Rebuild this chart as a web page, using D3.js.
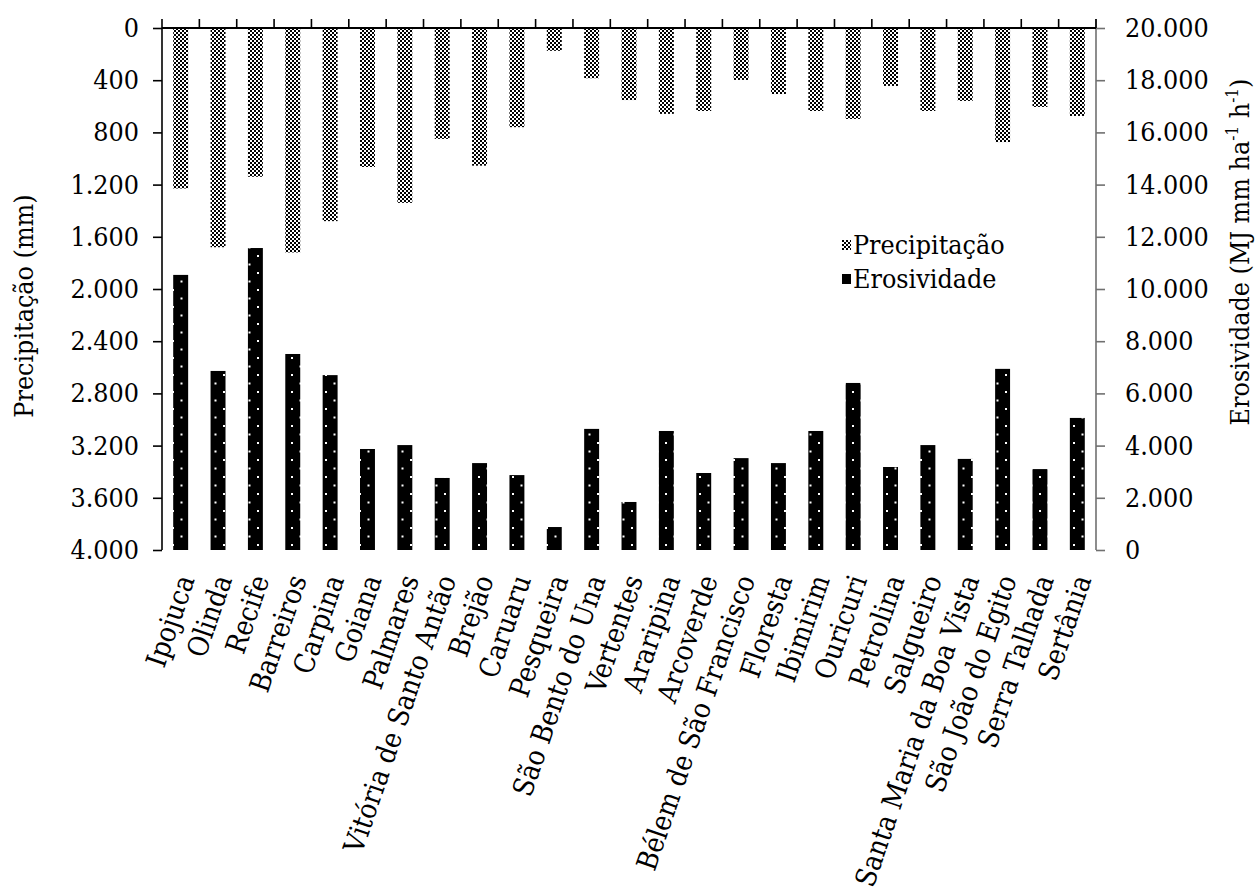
<!DOCTYPE html>
<html>
<head>
<meta charset="utf-8">
<script src="https://cdn.jsdelivr.net/npm/d3@7"></script>
<style>
  html, body { margin: 0; padding: 0; background: #fff; }
  svg { display: block; }
</style>
</head>
<body>
<svg id="chart" width="1256" height="893"></svg>
<script>
// Municípios de Pernambuco
const municipios = ["Ipojuca", "Olinda", "Recife", "Barreiros", "Carpina", "Goiana", "Palmares",
  "Vitória de Santo Antão", "Brejão", "Caruaru", "Pesqueira", "São Bento do Una", "Vertentes",
  "Araripina", "Arcoverde", "Bélem de São Francisco", "Floresta", "Ibimirim", "Ouricuri",
  "Petrolina", "Salgueiro", "Santa Maria da Boa Vista", "São João do Egito", "Serra Talhada", "Sertânia"];

// Precipitação média anual (mm)
const precipitacao = [1230, 1680, 1140, 1720, 1480, 1065, 1340, 850, 1055, 760, 175, 385, 552,
  658, 636, 398, 506, 636, 697, 444, 636, 559, 874, 605, 674];

// Erosividade (MJ mm ha-1 h-1)
const erosividade = [10540, 6860, 11570, 7510, 6700, 3870, 4020, 2760, 3330, 2870, 880, 4640, 1840,
  4560, 2950, 3520, 3330, 4560, 6400, 3180, 4020, 3490, 6940, 3100, 5060];

const ticksPrecipitacao = [0, 400, 800, 1200, 1600, 2000, 2400, 2800, 3200, 3600, 4000];
const ticksErosividade = [0, 2000, 4000, 6000, 8000, 10000, 12000, 14000, 16000, 18000, 20000];

const legendaSeries = ["Precipitação", "Erosividade"];

const ptBR = d3.formatLocale({ decimal: ",", thousands: ".", grouping: [3], currency: ["R$", ""] });
const fmt = ptBR.format(",d");

const svg = d3.select("#chart");
const plotLeft = 162, plotRight = 1096, plotTop = 28, plotBottom = 550;

// choose an installed serif face and size it so the left title spans ~223px
function pickSerif() {
  const probe = svg.append("text").attr("font-size", 100).text("Precipitação (mm)");
  const widthOf = fam => { probe.attr("font-family", fam); return probe.node().getComputedTextLength(); };
  const fallback = widthOf("__no_such_face__");
  const candidates = ["Liberation Serif", "Tinos", "Times New Roman", "DejaVu Serif Condensed", "DejaVu Serif"];
  let family = "serif";
  for (const c of candidates) {
    if (Math.abs(widthOf(`"${c}"`) - fallback) > 0.5) { family = `"${c}"`; break; }
  }
  const w = widthOf(family + ", serif");
  probe.remove();
  return { family: family + ", serif", size: Math.round(100 * 223 / w * 10) / 10 };
}
const face = pickSerif();
const serif = face.family;
const fontSize = face.size;
svg.attr("font-family", serif);

const x = d3.scaleBand().domain(municipios).range([plotLeft, plotRight]).paddingInner(0.6).paddingOuter(0.3);
const yP = d3.scaleLinear().domain([0, 4000]).range([plotTop, plotBottom]);
const yE = d3.scaleLinear().domain([0, 20000]).range([plotBottom, plotTop]);

// fill patterns
const defs = svg.append("defs");
const checker = defs.append("pattern").attr("id", "pat-precip")
  .attr("patternUnits", "userSpaceOnUse").attr("width", 4).attr("height", 4);
checker.append("rect").attr("width", 4).attr("height", 4).attr("fill", "#fff");
checker.append("rect").attr("x", 0).attr("y", 0).attr("width", 2).attr("height", 2).attr("fill", "#000");
checker.append("rect").attr("x", 2).attr("y", 2).attr("width", 2).attr("height", 2).attr("fill", "#000");

const dots = defs.append("pattern").attr("id", "pat-eros")
  .attr("patternUnits", "userSpaceOnUse").attr("width", 17).attr("height", 17);
dots.append("rect").attr("width", 17).attr("height", 17).attr("fill", "#000");
dots.append("rect").attr("x", 2).attr("y", 0).attr("width", 2).attr("height", 2).attr("fill", "#fff");
dots.append("rect").attr("x", 10.5).attr("y", 8.5).attr("width", 2).attr("height", 2).attr("fill", "#fff");

// precipitation bars hanging from the top axis
svg.append("g").selectAll("rect").data(municipios).join("rect")
  .attr("x", d => x(d))
  .attr("y", yP(0))
  .attr("width", x.bandwidth())
  .attr("height", (d, i) => yP(precipitacao[i]) - yP(0))
  .attr("fill", "url(#pat-precip)");

// erosivity bars rising from the bottom
svg.append("g").selectAll("rect").data(municipios).join("rect")
  .attr("x", d => x(d))
  .attr("y", (d, i) => yE(erosividade[i]))
  .attr("width", x.bandwidth())
  .attr("height", (d, i) => yE(0) - yE(erosividade[i]))
  .attr("fill", "url(#pat-eros)");

// left axis (precipitation, inverted)
const axL = svg.append("g").attr("transform", `translate(${plotLeft},0)`)
  .call(d3.axisLeft(yP).tickValues(ticksPrecipitacao).tickFormat(fmt).tickSize(9).tickPadding(14).tickSizeOuter(0));
axL.attr("font-family", serif).attr("font-size", fontSize);
axL.select(".domain").attr("stroke", "#000").attr("stroke-width", 1.6).attr("d", `M0,${plotTop - 9}V${plotBottom}`);
axL.selectAll(".tick line").attr("stroke", "#000").attr("stroke-width", 1.6);
axL.selectAll(".tick text").attr("fill", "#000");

// right axis (erosivity)
const axR = svg.append("g").attr("transform", `translate(${plotRight},0)`)
  .call(d3.axisRight(yE).tickValues(ticksErosividade).tickFormat(fmt).tickSize(9).tickPadding(20).tickSizeOuter(0));
axR.attr("font-family", serif).attr("font-size", fontSize);
axR.select(".domain").attr("stroke", "#707070").attr("stroke-width", 1.6).attr("d", `M0,${plotTop - 9}V${plotBottom}`);
axR.selectAll(".tick line").attr("stroke", "#707070").attr("stroke-width", 1.6);
axR.selectAll(".tick text").attr("fill", "#000");

// top category axis with ticks between categories
const boundaries = d3.range(municipios.length + 1).map(i => i === municipios.length ? plotRight : x(municipios[i]) - x.step() * x.paddingInner() / 2);
const topAxis = svg.append("g");
topAxis.append("line").attr("x1", plotLeft).attr("x2", plotRight).attr("y1", plotTop).attr("y2", plotTop)
  .attr("stroke", "#000").attr("stroke-width", 1.8);
topAxis.selectAll("line.sep").data(boundaries.slice(1)).join("line").attr("class", "sep")
  .attr("x1", d => d).attr("x2", d => d).attr("y1", plotTop - 9).attr("y2", plotTop)
  .attr("stroke", "#000").attr("stroke-width", 1.6);

// rotated category labels
svg.append("g").attr("font-size", fontSize * 1.06).selectAll("text").data(municipios).join("text")
  .attr("transform", d => `translate(${x(d) + x.bandwidth() / 2 + 5},${plotBottom + 26}) rotate(-71)`)
  .attr("text-anchor", "end")
  .attr("dy", "0.35em")
  .text(d => d);

// axis titles
svg.append("text")
  .attr("transform", `translate(33,306) rotate(-90)`)
  .attr("text-anchor", "middle")
  .attr("font-size", fontSize)
  .text("Precipitação (mm)");

const supSize = Math.round(fontSize * 0.65);
const tR = svg.append("text")
  .attr("transform", `translate(1249,252) rotate(-90)`)
  .attr("text-anchor", "middle")
  .attr("font-size", fontSize);
tR.append("tspan").text("Erosividade (MJ mm ha");
tR.append("tspan").attr("font-size", supSize).attr("dy", -11).text("-1");
tR.append("tspan").attr("dy", 11).text(" h");
tR.append("tspan").attr("font-size", supSize).attr("dy", -11).text("-1");
tR.append("tspan").attr("dy", 11).text(")");

// legend
const legend = svg.append("g").attr("transform", "translate(842,0)");
const legendFills = ["url(#pat-precip)", "url(#pat-eros)"];
const legendBase = [254, 288];
legend.selectAll("rect").data(legendaSeries).join("rect")
  .attr("x", 0).attr("y", (d, i) => legendBase[i] - 14).attr("width", 9).attr("height", 10)
  .attr("fill", (d, i) => legendFills[i]);
legend.selectAll("text").data(legendaSeries).join("text")
  .attr("x", 11).attr("y", (d, i) => legendBase[i])
  .attr("font-size", fontSize)
  .text(d => d);
</script>
</body>
</html>
